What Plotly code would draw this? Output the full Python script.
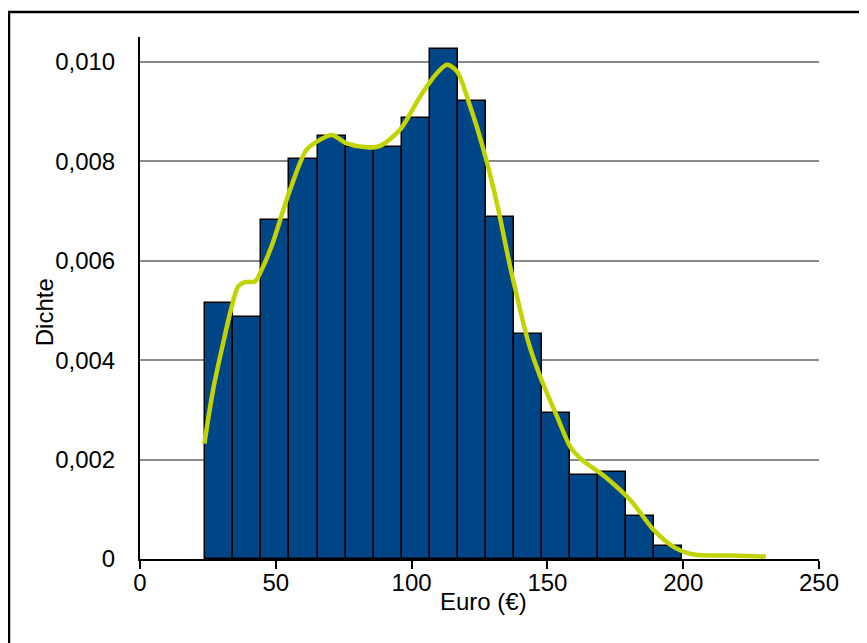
import plotly.graph_objects as go

# ---- data ----
bin_edges = [24.1, 34.4, 44.7, 55.0, 65.4, 75.7, 86.0, 96.4, 106.7, 117.0,
             127.4, 137.7, 148.0, 158.4, 168.7, 179.0, 189.3, 199.7]
density = [0.00515, 0.00487, 0.00681, 0.00804, 0.00851, 0.00829, 0.00829,
           0.00888, 0.01026, 0.00922, 0.00687, 0.00452, 0.00294, 0.00168,
           0.00175, 0.00086, 0.00027]

kde_x = [23.7, 26.9, 30.6, 33.6, 36.1, 38.6, 42.3, 44.7, 48.5, 55.2, 61.3,
         66.2, 70.6, 76.1, 83.5, 88.4, 95.8, 103.1, 109.3, 113.0, 116.7,
         121.6, 126.5, 131.4, 136.3, 143.1, 147.4, 153.6, 158.5, 162.2,
         172.0, 180.6, 189.2, 196.6, 204.0, 217.5, 230.4]
kde_y = [0.00232, 0.0034, 0.00434, 0.00504, 0.00548, 0.00557, 0.00558,
         0.00581, 0.0063, 0.00742, 0.00823, 0.00843, 0.00853, 0.00836,
         0.00828, 0.00831, 0.00864, 0.0093, 0.00977, 0.00994, 0.00981,
         0.0091, 0.00823, 0.00716, 0.00588, 0.00434, 0.00366, 0.00286,
         0.00225, 0.00202, 0.00162, 0.00118, 0.00058, 0.00024, 0.00009,
         0.00007, 0.00005]

x_ticks = [0, 50, 100, 150, 200, 250]
x_tick_labels = ["0", "50", "100", "150", "200", "250"]
y_ticks = [0, 0.002, 0.004, 0.006, 0.008, 0.010]
y_tick_labels = ["0", "0,002", "0,004", "0,006", "0,008", "0,010"]

x_title = "Euro (€)"
y_title = "Dichte"

# ---- derived bar geometry ----
centers = [(a + b) / 2 for a, b in zip(bin_edges[:-1], bin_edges[1:])]
widths = [b - a for a, b in zip(bin_edges[:-1], bin_edges[1:])]

FONT = "Liberation Sans, Arial, sans-serif"

fig = go.Figure()
fig.add_trace(go.Bar(
    x=centers, y=density, width=widths,
    marker=dict(color="#004586", line=dict(color="black", width=1.5)),
    showlegend=False,
))
fig.add_trace(go.Scatter(
    x=kde_x, y=kde_y, mode="lines",
    line=dict(color="#c2d400", width=4.5, shape="spline", smoothing=0.8),
    showlegend=False,
))

OFF = 8  # page body margin
W, H = 867 - OFF, 643 - OFF
# screen-space plot area: x 140..819, y 36.7..558.6
L = 140 - OFF
T = 37 - OFF
R = W - (819 - OFF)
B = H - (558.6 - OFF)
pw, ph = W - L - R, H - T - B

def px_x(p):
    return (p - OFF - L) / pw

def px_y(p):
    return (H - B - (p - OFF)) / ph

fig.update_layout(
    width=W, height=H,
    margin=dict(l=L, r=R, t=T, b=B, autoexpand=False),
    paper_bgcolor="white", plot_bgcolor="white",
    font=dict(family=FONT, size=24, color="black"),
    bargap=0,
    xaxis=dict(
        range=[0, 250], tickvals=x_ticks, ticktext=x_tick_labels,
        showgrid=False, zeroline=False,
        showline=True, linecolor="black", linewidth=2,
        ticks="outside", ticklen=8, tickwidth=1.5, tickcolor="black",
        ticklabelstandoff=-7,
        tickfont=dict(size=24),
    ),
    yaxis=dict(
        range=[0, 0.0105], tickvals=y_ticks, ticktext=y_tick_labels,
        showgrid=True, gridcolor="#8a8a8a", gridwidth=1.6,
        zeroline=False,
        showline=True, linecolor="black", linewidth=2,
        ticks="", ticklabelstandoff=18,
        tickfont=dict(size=24),
    ),
    annotations=[
        dict(text=x_title, xref="paper", yref="paper",
             x=px_x(483), y=px_y(601), showarrow=False,
             xanchor="center", yanchor="middle", font=dict(size=24)),
        dict(text=y_title, xref="paper", yref="paper",
             x=px_x(44), y=px_y(312), showarrow=False, textangle=-90,
             xanchor="center", yanchor="middle", font=dict(size=24)),
    ],
    shapes=[
        dict(type="rect", xref="paper", yref="paper",
             x0=px_x(9), x1=px_x(900), y0=px_y(12), y1=px_y(680),
             line=dict(color="black", width=2.5), fillcolor="rgba(0,0,0,0)",
             layer="below"),
    ],
)

fig.write_html("out.html")
